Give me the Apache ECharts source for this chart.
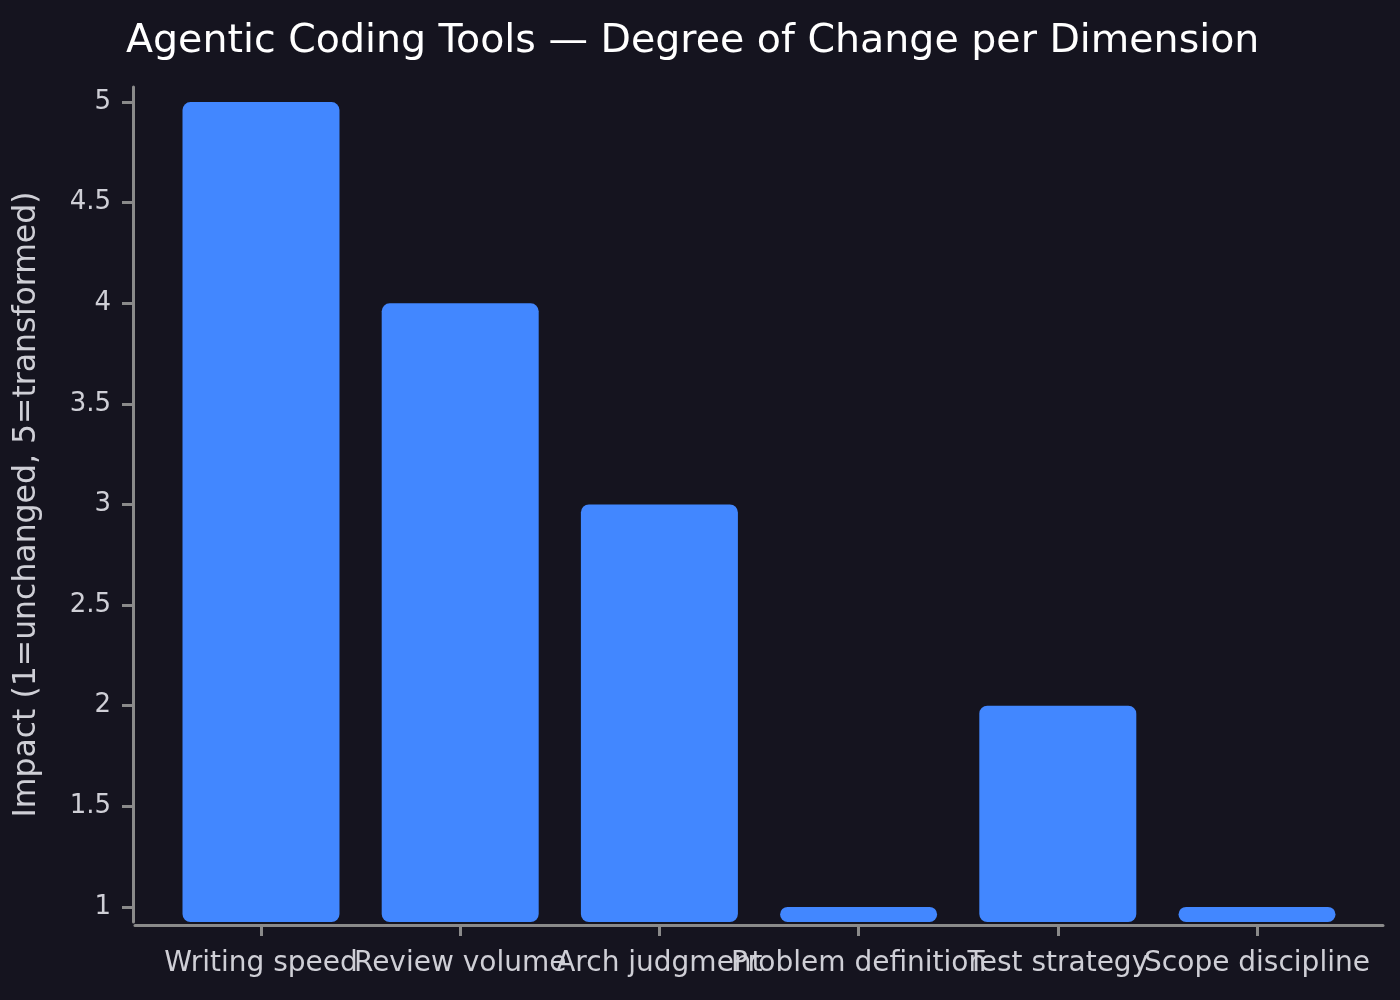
<!DOCTYPE html>
<html>
<head>
<meta charset="utf-8">
<script src="https://cdn.jsdelivr.net/npm/echarts@6/dist/echarts.min.js"></script>
<style>
  html, body { margin: 0; background: #15141f; }
  #chart { width: 1400px; height: 1000px; }
</style>
</head>
<body>
<div id="chart"></div>
<script>
// data
const categories = ['Writing speed', 'Review volume', 'Arch judgment', 'Problem definition', 'Test strategy', 'Scope discipline'];
const impact = [5, 4, 3, 1, 2, 1];
const yTicks = [1, 1.5, 2, 2.5, 3, 3.5, 4, 4.5, 5];
const xTicks = [0, 1, 2, 3, 4, 5];
// labels touch each other, so they are split over two stacked x axes
// (otherwise echarts drops the overlapping neighbours)
const xTicksEven = [0, 2, 4];
const xTicksOdd = [1, 3, 5];

const chart = echarts.init(document.getElementById('chart'), null, { renderer: 'canvas' });

const axisGray = '#8a8a8a';
const labelColor = '#cfcfd6';
const font = 'DejaVu Sans';

function xAxisFor(ticks, showLine) {
  return {
    type: 'value',
    position: 'bottom',
    min: -0.6325,
    max: 5.6325,
    offset: 3,
    splitLine: { show: false },
    axisLine: { show: showLine, onZero: false, lineStyle: { color: axisGray, width: 3 } },
    axisTick: { show: showLine, customValues: xTicks, length: 11, lineStyle: { color: axisGray, width: 3 } },
    axisLabel: {
      customValues: ticks,
      formatter: function (v) { return categories[Math.round(v)]; },
      color: labelColor,
      fontSize: 28,
      fontFamily: font,
      margin: 25
    }
  };
}

var option = {
  backgroundColor: '#15141f',
  animation: false,
  title: {
    text: 'Agentic Coding Tools — Degree of Change per Dimension',
    left: 121,
    top: 17,
    textStyle: { color: '#ffffff', fontSize: 39.5, fontWeight: 'normal', fontFamily: font }
  },
  grid: { left: 135, right: 17, top: 87, bottom: 78, containLabel: false },
  xAxis: [xAxisFor(xTicksEven, true), xAxisFor(xTicksOdd, false)],
  yAxis: {
    type: 'value',
    min: 0.925,
    max: 5.075,
    offset: 2,
    name: 'Impact (1=unchanged, 5=transformed)',
    nameLocation: 'middle',
    nameGap: 90,
    nameTextStyle: { color: labelColor, fontSize: 31.5, fontFamily: font },
    splitLine: { show: false },
    axisLine: { show: true, onZero: false, lineStyle: { color: axisGray, width: 3 } },
    axisTick: { show: true, customValues: yTicks, length: 11, lineStyle: { color: axisGray, width: 3 } },
    axisLabel: {
      customValues: yTicks,
      showMinLabel: true,
      showMaxLabel: true,
      color: labelColor,
      fontSize: 26,
      fontFamily: font,
      margin: 22
    }
  },
  series: [{
    type: 'bar',
    xAxisIndex: 0,
    data: categories.map(function (c, i) { return [i, impact[i]]; }),
    barWidth: 157,
    itemStyle: { color: '#4287ff', borderRadius: 8 }
  }]
};

chart.setOption(option);
</script>
</body>
</html>
